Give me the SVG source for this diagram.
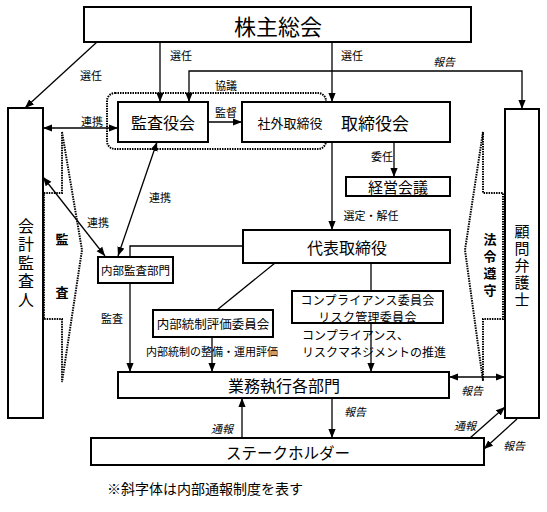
<svg xmlns="http://www.w3.org/2000/svg" width="547" height="512" viewBox="0 0 547 512">
<defs>
<marker id="ah" viewBox="0 0 10 8" refX="10" refY="4" markerWidth="9" markerHeight="8" markerUnits="userSpaceOnUse" orient="auto-start-reverse"><path d="M0,0 L10,4 L0,8 z" fill="#000"/></marker>
</defs>
<style>
text{font-family:"Noto Sans CJK JP","Noto Sans CJK SC",sans-serif;fill:#000;dominant-baseline:central;text-anchor:middle}
.box{fill:#fff;stroke:#000;stroke-width:2}
.ln{fill:none;stroke:#000;stroke-width:1.3}
.arr{marker-end:url(#ah)}
.both{marker-start:url(#ah);marker-end:url(#ah)}
.dot{fill:none;stroke:#000;stroke-width:2;stroke-dasharray:1.5 1}
.it{font-style:italic}
.lb{font-size:11px}
.bd{font-weight:bold;font-size:13px}
.vt{writing-mode:vertical-rl}
</style>
<rect width="547" height="512" fill="#fff"/>

<g id="audit-zone">
<polygon class="dot" points="62,132 82,250 62,382 62,319 44,319 44,193 62,193"/>
<text class="bd" x="62" y="238">監</text>
<text class="bd" x="62" y="291">査</text>
</g>
<g id="compliance-zone">
<polygon class="dot" points="483,132 465,250 483,381 483,319 503,319 503,193 483,193"/>
<text class="bd vt" x="490" y="267" style="letter-spacing:4px">法令遵守</text>
</g>

<g id="shareholders"><rect class="box" x="84" y="7" width="387" height="35"/><text x="278" y="25" font-size="22">株主総会</text></g>
<g id="accounting-auditor"><rect class="box" x="8" y="108" width="35" height="310"/>
<text class="vt" x="26" y="264" font-size="16" style="letter-spacing:2.5px">会計監査人</text></g>
<g id="legal-counsel"><rect class="box" x="505" y="109" width="34" height="309"/>
<text class="vt" x="522" y="266" font-size="15" style="letter-spacing:2px">顧問弁護士</text></g>
<g id="outside-group"><rect class="dot" x="107" y="93" width="219" height="56" rx="8"/></g>
<g id="audit-board"><rect class="box" x="118" y="102" width="90" height="40"/><text x="163" y="122" font-size="16">監査役会</text></g>
<g id="board"><rect class="box" x="242" y="102" width="208" height="40"/><text x="375" y="122" font-size="17">取締役会</text></g>
<g id="outside-director"><text x="290" y="122" font-size="13">社外取締役</text></g>
<g id="management-meeting"><rect class="box" x="346" y="177" width="104" height="19"/><text x="398" y="186.5" font-size="15">経営会議</text></g>
<g id="representative"><rect class="box" x="243" y="230" width="207" height="33"/><text x="347" y="246.5" font-size="16">代表取締役</text></g>
<g id="internal-audit"><rect class="box" x="98" y="257" width="75" height="26"/><text x="135.5" y="270" font-size="11.5">内部監査部門</text></g>
<g id="ic-committee"><rect class="box" x="153" y="310" width="120" height="27"/><text x="213" y="323.5" font-size="12.5">内部統制評価委員会</text></g>
<g id="compliance-committee"><rect class="box" x="292" y="291" width="151" height="32"/><text font-size="12.5" style="letter-spacing:0.3px"><tspan x="367.5" y="298.5" style="font-size:12px">コンプライアンス委員会</tspan><tspan x="367.5" y="315.5" style="font-size:12px">リスク管理委員会</tspan></text></g>
<g id="business-units"><rect class="box" x="118" y="372" width="331" height="26"/><text x="284" y="385" font-size="16">業務執行各部門</text></g>
<g id="stakeholders"><rect class="box" x="91" y="438" width="393" height="27"/><text x="288" y="451.5" font-size="15.5">ステークホルダー</text></g>

<g id="connectors">
<path class="ln arr" d="M97,42 L25,108"/>
<path class="ln arr" d="M160,42 V102"/>
<path class="ln arr" d="M332,42 V102"/>
<path class="ln both" d="M189,102 V71 H522 V109"/>
<path class="ln both" d="M43,128 H118"/>
<path class="ln arr" d="M208,122 H242"/>
<path class="ln arr" d="M394,142 V177"/>
<path class="ln arr" d="M332,142 V230"/>
<path class="ln both" d="M157,142 L118,256"/>
<path class="ln both" d="M43,177 L105,256"/>
<path class="ln" d="M243,246 H130 V257"/>
<path class="ln" d="M275,263 L217,310"/>
<path class="ln" d="M371,263 V291"/>
<path class="ln arr" d="M130,283 V372"/>
<path class="ln arr" d="M212,337 V372"/>
<path class="ln arr" d="M371,323 V372"/>
<path class="ln both" d="M449,377 H505"/>
<path class="ln arr" d="M332,398 V438"/>
<path class="ln arr" d="M242,438 V398"/>
<path class="ln arr" d="M470,438 L505,407"/>
<path class="ln arr" d="M517,419 L484,449"/>
</g>

<g id="labels">
<text class="lb" x="91" y="75">選任</text>
<text class="lb" x="181" y="55">選任</text>
<text class="lb" x="352" y="55">選任</text>
<text class="lb" x="226" y="85">協議</text>
<text class="lb it" x="444" y="61">報告</text>
<text class="lb" x="92" y="121">連携</text>
<text class="lb" x="226" y="112">監督</text>
<text class="lb" x="382" y="156">委任</text>
<text class="lb" x="371" y="215">選定・解任</text>
<text class="lb" x="160" y="197">連携</text>
<text class="lb" x="98" y="222">連携</text>
<text class="lb" x="112" y="318">監査</text>
<text class="lb" x="212" y="351" font-size="11.5">内部統制の整備・運用評価</text>
<text class="lb" style="text-anchor:start;font-size:12px"><tspan x="302" y="334">コンプライアンス、</tspan><tspan x="302" y="351">リスクマネジメントの推進</tspan></text>
<text class="lb it" x="472" y="390">報告</text>
<text class="lb it" x="355" y="411">報告</text>
<text class="lb it" x="222" y="428">通報</text>
<text class="lb it" x="465" y="425">通報</text>
<text class="lb it" x="514" y="445">報告</text>
<text x="205" y="488" font-size="14">※斜字体は内部通報制度を表す</text>
</g>
</svg>
